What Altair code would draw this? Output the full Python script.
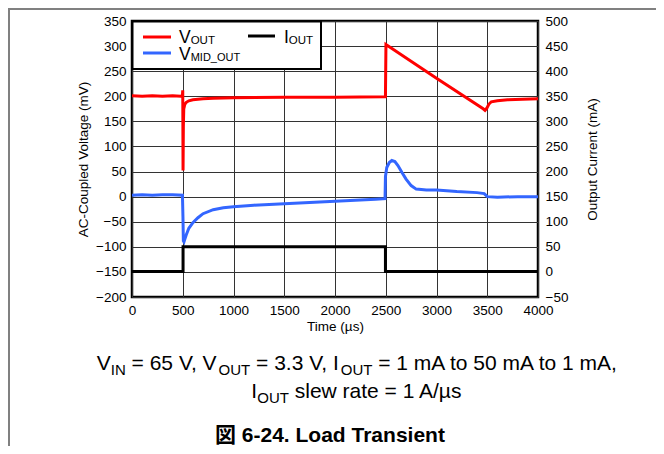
import altair as alt
import pandas as pd

# ---------------- data ----------------
t_vout = [0, 100, 200, 300, 400, 480, 497, 500, 503, 506, 510, 520, 535, 560, 600, 700, 800,
          1000, 1500, 2000, 2490, 2497, 2502, 3000, 3460, 3478, 3495, 3515, 3540, 3600, 3700, 3850, 4000]
v_vout = [201, 200, 201, 200, 201, 200, 202, 212, 52, 140, 175, 184, 188, 191, 193, 195, 196,
          197, 198, 198, 199, 199, 303, 236, 175, 172, 176, 184, 189, 191, 193, 194, 195]

t_vmid = [0, 100, 200, 300, 400, 497, 502, 506, 512, 520, 535, 560, 600, 650, 700, 800, 900, 1000,
          1200, 1500, 1800, 2000, 2200, 2400, 2493, 2497, 2510, 2535, 2560, 2590, 2620, 2660, 2700,
          2750, 2800, 2900, 3000, 3200, 3400, 3470, 3500, 3600, 3800, 4000]
v_vmid = [3, 4, 3, 4, 4, 3, -40, -88, -90, -85, -76, -63, -52, -42, -34, -26, -22, -20,
          -17, -14, -11, -9, -7, -5, -4, 40, 58, 68, 72, 70, 62, 48, 35,
          22, 15, 13, 13, 10, 8, 6, 0, -1, 0, 0]

t_iout = [0, 503, 503, 2497, 2497, 4000]
i_iout = [1, 1, 50, 50, 1, 1]

x_ticks = list(range(0, 4001, 500))
v_ticks = list(range(-200, 351, 50))
i_ticks = list(range(-50, 501, 50))

series_names = ["VOUT", "VMID_OUT"]
series_colors = ["#ff0000", "#3366ff"]

# ---------------- tables ----------------
vdf = pd.concat([
    pd.DataFrame({"t": t_vout, "mv": v_vout, "series": "VOUT", "idx": range(len(t_vout))}),
    pd.DataFrame({"t": t_vmid, "mv": v_vmid, "series": "VMID_OUT", "idx": range(len(t_vmid))}),
])
idf = pd.DataFrame({"t": t_iout, "ma": i_iout, "idx": range(len(t_iout))})

FONT = "Liberation Sans, Arial, Helvetica, sans-serif"
CJK = "Liberation Sans, Arial, Noto Sans CJK JP, sans-serif"
W, H = 406, 276
PL, PT = 124, 13
PR, PB = 648 - PL - W, 438 - PT - H

# ---------------- lines ----------------
volt = alt.Chart(vdf).mark_line(strokeWidth=3).encode(
    x=alt.X("t:Q", scale=alt.Scale(domain=[0, 4000], nice=False),
            axis=alt.Axis(values=x_ticks, title="Time (µs)", labelPadding=6, titlePadding=3,
                          format="d", labelFlush=False)),
    y=alt.Y("mv:Q", scale=alt.Scale(domain=[-200, 350], nice=False),
            axis=alt.Axis(values=v_ticks, title="AC-Coupled Voltage (mV)", orient="left",
                          labelPadding=6, titlePadding=5, labelFlush=False)),
    color=alt.Color("series:N", scale=alt.Scale(domain=series_names, range=series_colors), legend=None),
    order="idx:Q",
)

curr = alt.Chart(idf).mark_line(strokeWidth=3, color="black").encode(
    x=alt.X("t:Q"),
    y=alt.Y("ma:Q", scale=alt.Scale(domain=[-50, 500], nice=False),
            axis=alt.Axis(values=i_ticks, title="Output Current (mA)", orient="right", grid=False,
                          labelPadding=7, titlePadding=32, titleAngle=270, labelFlush=False)),
    order="idx:Q",
)

one = alt.Data(values=[{"k": 0}])

# ---------------- rich text helper ----------------
AR = {" ": 278, "=": 584, ",": 278, ".": 278, "/": 278, "µ": 576, "_": 556,
      "A": 667, "D": 722, "I": 278, "M": 833, "N": 722, "O": 778, "T": 611, "U": 722, "V": 667,
      "a": 556, "e": 556, "l": 222, "m": 833, "o": 556, "r": 333, "s": 500, "t": 278, "w": 722}


def tw(s, fs):
    return sum(AR.get(c, 556) for c in s) * fs / 1000.0


def rich(parts, x0, y0, fs, sfs, sdy, center=False):
    total = sum(tw(p, sfs if sub else fs) for p, sub in parts)
    x = x0 - total / 2 if center else x0
    out = []
    for p, sub in parts:
        size = sfs if sub else fs
        lead = len(p) - len(p.lstrip(" "))
        x += tw(" " * lead, size)
        txt = p.lstrip(" ")
        out.append((txt, x, y0 + (sdy if sub else 0), size))
        x += tw(txt, size)
    return out


def text_layers(items, color="black", weight="normal", font=FONT):
    return [alt.Chart(one).mark_text(text=t, fontSize=s, align="left", baseline="alphabetic",
                                     font=font, color=color, fontWeight=weight)
            .encode(x=alt.value(x), y=alt.value(y)) for t, x, y, s in items]


# ---------------- legend ----------------
legend_box = alt.Chart(one).mark_rect(fill="white", stroke="black", strokeWidth=2).encode(
    x=alt.value(0.5), x2=alt.value(189), y=alt.value(0.5), y2=alt.value(48))
leg_red = alt.Chart(one).mark_rule(color=series_colors[0], strokeWidth=3).encode(
    x=alt.value(11), x2=alt.value(39), y=alt.value(16))
leg_blue = alt.Chart(one).mark_rule(color=series_colors[1], strokeWidth=3).encode(
    x=alt.value(11), x2=alt.value(39), y=alt.value(32))
leg_blk = alt.Chart(one).mark_rule(color="black", strokeWidth=3).encode(
    x=alt.value(116), x2=alt.value(143), y=alt.value(15))

leg_txt = []
leg_txt += rich([("V", 0), ("OUT", 1)], 47, 22, 17.5, 11.5, 1)
leg_txt += rich([("I", 0), ("OUT", 1)], 152, 22, 17.5, 11.5, 1)
leg_txt += rich([("V", 0), ("MID_OUT", 1)], 47, 39, 17.5, 11, 1)

# ---------------- caption ----------------
cap = []
cap += rich([("V", 0), ("IN", 1), (" = 65 V, V", 0), ("OUT", 1), (" = 3.3 V, I", 0), ("OUT", 1),
             (" = 1 mA to 50 mA to 1 mA,", 0)], 226, 349, 21, 15, 5, center=True)
cap += rich([("I", 0), ("OUT", 1), (" slew rate = 1 A/µs", 0)], 225, 377, 21, 15, 5, center=True)

title = alt.Chart(one).mark_text(text="図 6-24. Load Transient", fontSize=21, fontWeight="bold",
                                 align="left", baseline="alphabetic", font=CJK, color="black").encode(
    x=alt.value(83), y=alt.value(421))

# ---------------- page frame ----------------
frame_top = alt.Chart(one).mark_rule(color="#808080", strokeWidth=2).encode(
    x=alt.value(-PL), x2=alt.value(W + PR), y=alt.value(-PT + 1))
frame_left = alt.Chart(one).mark_rule(color="#808080", strokeWidth=2).encode(
    x=alt.value(-PL + 1), y=alt.value(-PT), y2=alt.value(H + PB))

layers = [volt, curr, legend_box, leg_red, leg_blue, leg_blk] + text_layers(leg_txt) + \
    text_layers(cap) + [title, frame_top, frame_left]

chart = alt.layer(*layers).resolve_scale(y="independent").properties(
    width=W, height=H,
    autosize=alt.AutoSizeParams(type="none"),
    padding={"left": PL, "top": PT, "right": PR, "bottom": PB},
).configure_view(stroke="black", strokeWidth=2.5).configure_axis(
    labelFont=FONT, titleFont=FONT, labelFontSize=13.5, titleFontSize=13.5,
    labelColor="black", titleColor="black", titleFontWeight="normal",
    tickSize=0, domain=False, gridColor="#333333", gridWidth=1, gridOpacity=1,
)

chart.save("out.html", embed_options={"renderer": "svg", "actions": False})
